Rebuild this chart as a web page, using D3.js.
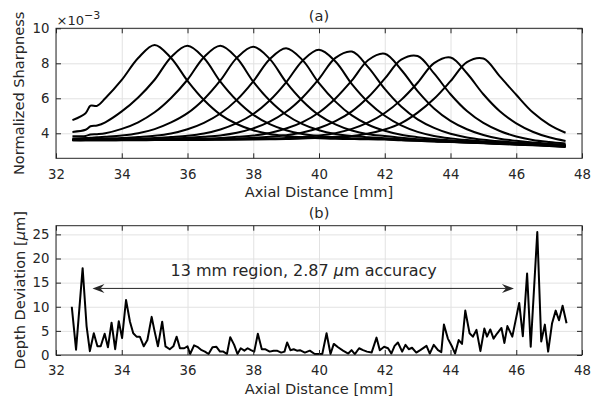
<!DOCTYPE html>
<html><head><meta charset="utf-8">
<script src="https://cdn.jsdelivr.net/npm/d3@7"></script>
<style>
body{margin:0;background:#fff}
svg{display:block}
text{font-family:"DejaVu Sans",sans-serif;fill:#262626}
</style>
</head><body>
<svg id="chart" width="592" height="399"></svg>
<script>
// ---------- data ----------
const sharpX = [32.5,32.9,33.05,33.25,33.5,34,34.5,35,35.5,36,36.5,37,37.5,38,38.5,39,39.5,40,40.5,41,41.5,42,42.5,43,43.5,44,44.5,45,45.5,46,46.5,47,47.5];
const sharpPeak35 = [4.75,5.15,5.58,5.57,6.0,7.05,8.3,9.05,8.3,7.0,5.9,5.07,4.53,4.17,3.96,3.85,3.77,3.72,3.69,3.67,3.66,3.64,3.6,3.57,3.53,3.5,3.47,3.43,3.39,3.35,3.31,3.27,3.22];
const sharpPeak36 = [4.08,4.2,4.4,4.45,4.63,5.25,6.05,7.06,8.35,9.0,8.3,6.95,5.87,5.06,4.52,4.17,3.96,3.84,3.77,3.72,3.69,3.67,3.62,3.58,3.54,3.51,3.47,3.44,3.40,3.37,3.33,3.29,3.24];
const sharpPeak37 = [3.83,3.85,3.93,3.95,4.0,4.25,4.63,5.2,6.02,7.06,8.35,9.0,8.3,6.95,5.87,5.06,4.52,4.17,3.96,3.84,3.77,3.72,3.66,3.61,3.56,3.52,3.48,3.45,3.41,3.38,3.34,3.30,3.25];
const sharpPeak38 = [3.70,3.73,3.74,3.77,3.80,3.87,4.0,4.24,4.62,5.15,5.95,7.02,8.31,8.95,8.25,6.92,5.85,5.04,4.51,4.16,3.95,3.84,3.74,3.66,3.60,3.54,3.50,3.46,3.42,3.39,3.35,3.31,3.27];
const sharpPeak39 = [3.66,3.67,3.67,3.68,3.70,3.73,3.79,3.86,3.99,4.23,4.60,5.13,5.91,6.97,8.23,8.86,8.18,6.86,5.81,5.02,4.49,4.15,3.92,3.78,3.67,3.60,3.54,3.48,3.44,3.40,3.36,3.33,3.29];
const sharpPeak40 = [3.64,3.64,3.65,3.65,3.66,3.67,3.70,3.73,3.79,3.86,3.99,4.22,4.58,5.10,5.87,6.91,8.15,8.77,8.10,6.81,5.77,5.0,4.45,4.08,3.85,3.71,3.61,3.53,3.48,3.42,3.38,3.34,3.30];
const sharpPeak41 = [3.62,3.63,3.63,3.63,3.64,3.65,3.66,3.67,3.70,3.74,3.80,3.88,4.03,4.28,4.67,5.23,6.05,7.11,8.31,8.67,7.77,6.54,5.53,4.80,4.31,3.97,3.76,3.63,3.54,3.47,3.41,3.36,3.32];
const sharpPeak42 = [3.61,3.61,3.62,3.62,3.62,3.63,3.64,3.64,3.65,3.67,3.70,3.73,3.80,3.87,4.02,4.27,4.64,5.19,5.99,7.02,8.19,8.55,7.63,6.41,5.42,4.71,4.23,3.90,3.69,3.57,3.47,3.40,3.35];
const sharpPeak43 = [3.61,3.61,3.61,3.61,3.61,3.62,3.62,3.63,3.64,3.65,3.66,3.67,3.70,3.74,3.80,3.89,4.04,4.30,4.69,5.25,6.07,7.12,8.21,8.42,7.42,6.23,5.27,4.59,4.13,3.82,3.62,3.50,3.41];
const sharpPeak44 = [3.60,3.60,3.60,3.60,3.60,3.61,3.61,3.62,3.62,3.63,3.64,3.64,3.65,3.67,3.70,3.73,3.79,3.87,4.01,4.25,4.62,5.16,5.91,6.89,8.01,8.33,7.43,6.23,5.26,4.57,4.09,3.77,3.56];
const sharpPeak45 = [3.60,3.60,3.60,3.60,3.60,3.60,3.60,3.61,3.61,3.62,3.62,3.63,3.64,3.65,3.66,3.67,3.70,3.74,3.80,3.85,3.99,4.22,4.58,5.18,5.97,6.98,8.07,8.27,7.25,6.2,5.2,4.5,4.03];
const sharpSeries = [sharpPeak35,sharpPeak36,sharpPeak37,sharpPeak38,sharpPeak39,sharpPeak40,sharpPeak41,sharpPeak42,sharpPeak43,sharpPeak44,sharpPeak45];

const depthX = [32.48,32.61,32.81,32.93,33.03,33.15,33.26,33.36,33.48,33.58,33.69,33.8,33.91,34.01,34.13,34.25,34.35,34.45,34.55,34.67,34.78,34.91,34.99,35.1,35.23,35.33,35.46,35.57,35.67,35.77,35.9,36.0,36.08,36.2,36.3,36.43,36.53,36.64,36.76,36.88,36.99,37.09,37.2,37.3,37.42,37.52,37.62,37.73,37.83,37.93,38.03,38.14,38.26,38.36,38.5,38.62,38.72,38.85,38.95,39.03,39.13,39.23,39.33,39.42,39.57,39.72,39.87,40.1,40.23,40.35,40.45,40.58,40.73,40.89,40.99,41.09,41.22,41.34,41.46,41.6,41.75,41.85,41.98,42.1,42.2,42.3,42.4,42.53,42.63,42.73,42.83,42.96,43.08,43.27,43.37,43.49,43.62,43.72,43.8,43.92,44.05,44.14,44.25,44.35,44.45,44.58,44.68,44.79,44.91,45.03,45.11,45.21,45.31,45.41,45.55,45.64,45.73,45.88,46.09,46.2,46.33,46.44,46.64,46.76,46.87,46.97,47.09,47.2,47.3,47.41,47.53];
const depthY = [10.0,1.1,18.0,6.0,0.8,4.5,1.8,1.8,4.4,1.6,6.7,1.2,7.0,3.5,11.4,6.9,4.5,3.8,3.8,1.8,3.1,7.9,5.2,1.8,6.9,1.8,1.2,1.8,3.8,1.4,1.4,1.8,0.2,2.0,1.7,1.0,0.7,0.2,1.6,1.7,0.7,0.7,0.2,3.7,2.1,0.2,1.4,0.9,1.4,1.0,0.7,4.4,1.2,1.2,0.7,0.9,0.9,0.5,0.7,2.6,1.0,1.2,0.9,1.0,0.5,0.9,0.2,0.2,4.5,0.2,2.3,1.6,0.9,0.3,1.0,0.2,1.4,1.0,0.7,0.5,3.6,1.0,1.7,1.4,0.3,1.9,2.6,0.7,2.1,1.2,1.5,0.5,1.0,1.9,0.3,2.1,1.0,0.6,6.3,3.4,1.7,0.3,3.1,2.3,9.2,4.5,3.8,5.2,0.8,5.5,3.8,5.3,3.4,4.4,5.6,2.5,6.0,3.8,10.8,3.9,16.9,1.7,25.5,2.8,6.3,0.7,6.6,9.2,7.2,10.2,6.6];

const xTicks = [32,34,36,38,40,42,44,46,48];
const sharpTicks = [4,6,8,10];
const depthTicks = [0,5,10,15,20,25];
const arrowSpan = [33.11, 45.93];
const arrowLevel = 13.8;
const annotationParts = ["13 mm region, 2.87 ", "\u03bc", "m accuracy"];

// ---------- layout ----------
const svg = d3.select("#chart");
const L = 56, R = 582;
const panelA = {y0: 28.3, y1: 158.3};
const panelB = {y0: 225.7, y1: 355};
const ink = "#262626", gridC = "#e2e2e2";
const tickFont = 13.3, labelFont = 14.6;

const x = d3.scaleLinear().domain([32, 48]).range([L, R]);
const yTop = d3.scaleLinear().domain([2.571, 10]).range([panelA.y1, panelA.y0]);
const yBot = d3.scaleLinear().domain([0, 26.8]).range([panelB.y1, panelB.y0]);

function grid(p, y, yt) {
  const g = svg.append("g");
  g.append("g").attr("transform", `translate(0,${p.y1})`)
    .call(d3.axisBottom(x).tickValues(xTicks).tickSize(-(p.y1 - p.y0)).tickFormat(""))
    .call(s => { s.select(".domain").remove(); s.selectAll("line").attr("stroke", gridC).attr("stroke-width", 1); });
  g.append("g").attr("transform", `translate(${L},0)`)
    .call(d3.axisLeft(y).tickValues(yt).tickSize(-(R - L)).tickFormat(""))
    .call(s => { s.select(".domain").remove(); s.selectAll("line").attr("stroke", gridC).attr("stroke-width", 1); });
}

function frame(p, y, yt) {
  const g = svg.append("g");
  const styleAx = s => {
    s.select(".domain").remove();
    s.selectAll("line").attr("stroke", ink).attr("stroke-width", 1);
    s.selectAll("text").attr("fill", ink).style("font-size", tickFont + "px").style("font-family", "DejaVu Sans");
  };
  g.append("g").attr("transform", `translate(0,${p.y1})`)
    .call(d3.axisBottom(x).tickValues(xTicks).tickSize(-5).tickPadding(11).tickFormat(d3.format("d"))).call(styleAx);
  g.append("g").attr("transform", `translate(0,${p.y0})`)
    .call(d3.axisTop(x).tickValues(xTicks).tickSize(-5).tickFormat("")).call(styleAx);
  g.append("g").attr("transform", `translate(${L},0)`)
    .call(d3.axisLeft(y).tickValues(yt).tickSize(-5).tickPadding(6.5).tickFormat(d3.format("d"))).call(styleAx);
  g.append("g").attr("transform", `translate(${R},0)`)
    .call(d3.axisRight(y).tickValues(yt).tickSize(-5).tickFormat("")).call(styleAx);
  g.append("rect").attr("x", L).attr("y", p.y0).attr("width", R - L).attr("height", p.y1 - p.y0)
    .attr("fill", "none").attr("stroke", ink).attr("stroke-width", 1);
}

// ---------- top panel ----------
grid(panelA, yTop, sharpTicks);
const lineTop = d3.line().x((d, i) => x(sharpX[i])).y(d => yTop(d)).curve(d3.curveCatmullRom.alpha(0.5));
svg.append("g").selectAll("path").data(sharpSeries).join("path")
  .attr("d", lineTop).attr("fill", "none").attr("stroke", "#000").attr("stroke-width", 2)
  .attr("stroke-linejoin", "round");
frame(panelA, yTop, sharpTicks);

// ---------- bottom panel ----------
grid(panelB, yBot, depthTicks);
const lineBot = d3.line().x((d, i) => x(depthX[i])).y(d => yBot(d));
svg.append("path").datum(depthY).attr("d", lineBot).attr("fill", "none")
  .attr("stroke", "#000").attr("stroke-width", 2).attr("stroke-linejoin", "round");
frame(panelB, yBot, depthTicks);

// arrow
const ax0 = x(arrowSpan[0]), ax1 = x(arrowSpan[1]), ay = yBot(arrowLevel);
svg.append("line").attr("x1", ax0 + 8).attr("x2", ax1 - 8).attr("y1", ay).attr("y2", ay)
  .attr("stroke", ink).attr("stroke-width", 1);
function head(tx, dir) {
  return `M${tx},${ay}L${tx - dir * 12},${ay - 4.5}L${tx - dir * 8},${ay}L${tx - dir * 12},${ay + 4.5}Z`;
}
svg.append("path").attr("d", head(ax0, -1)).attr("fill", ink);
svg.append("path").attr("d", head(ax1, 1)).attr("fill", ink);

// annotation
const ann = svg.append("text").attr("x", 303.7).attr("y", 275.7).attr("text-anchor", "middle").style("font-size", "16px");
ann.append("tspan").text(annotationParts[0]);
ann.append("tspan").style("font-style", "italic").text(annotationParts[1]);
ann.append("tspan").text(annotationParts[2]);

// ---------- titles & labels ----------
const cx = (L + R) / 2;
svg.append("text").attr("x", cx).attr("y", panelA.y0 - 7.5).attr("text-anchor", "middle").style("font-size", labelFont + "px").text("(a)");
svg.append("text").attr("x", cx).attr("y", panelB.y0 - 7.8).attr("text-anchor", "middle").style("font-size", labelFont + "px").text("(b)");
svg.append("text").attr("x", cx).attr("y", panelA.y1 + 39).attr("text-anchor", "middle").style("font-size", labelFont + "px").text("Axial Distance [mm]");
svg.append("text").attr("x", cx).attr("y", panelB.y1 + 39).attr("text-anchor", "middle").style("font-size", labelFont + "px").text("Axial Distance [mm]");
svg.append("text").attr("transform", `translate(24,${(panelA.y0 + panelA.y1) / 2}) rotate(-90)`).attr("text-anchor", "middle")
  .style("font-size", labelFont + "px").text("Normalized Sharpness");
const yl = svg.append("text").attr("transform", `translate(24.5,${(panelB.y0 + panelB.y1) / 2}) rotate(-90)`).attr("text-anchor", "middle")
  .style("font-size", labelFont + "px");
yl.append("tspan").text("Depth Deviation [");
yl.append("tspan").style("font-style", "italic").text("\u03bc");
yl.append("tspan").text("m]");

// exponent
const ex = svg.append("text").attr("x", 56.5).attr("y", 24.5).style("font-size", "13px");
ex.append("tspan").text("\u00d710");
ex.append("tspan").attr("dy", -6).style("font-size", "11px").text("\u22123");
</script>
</body></html>
